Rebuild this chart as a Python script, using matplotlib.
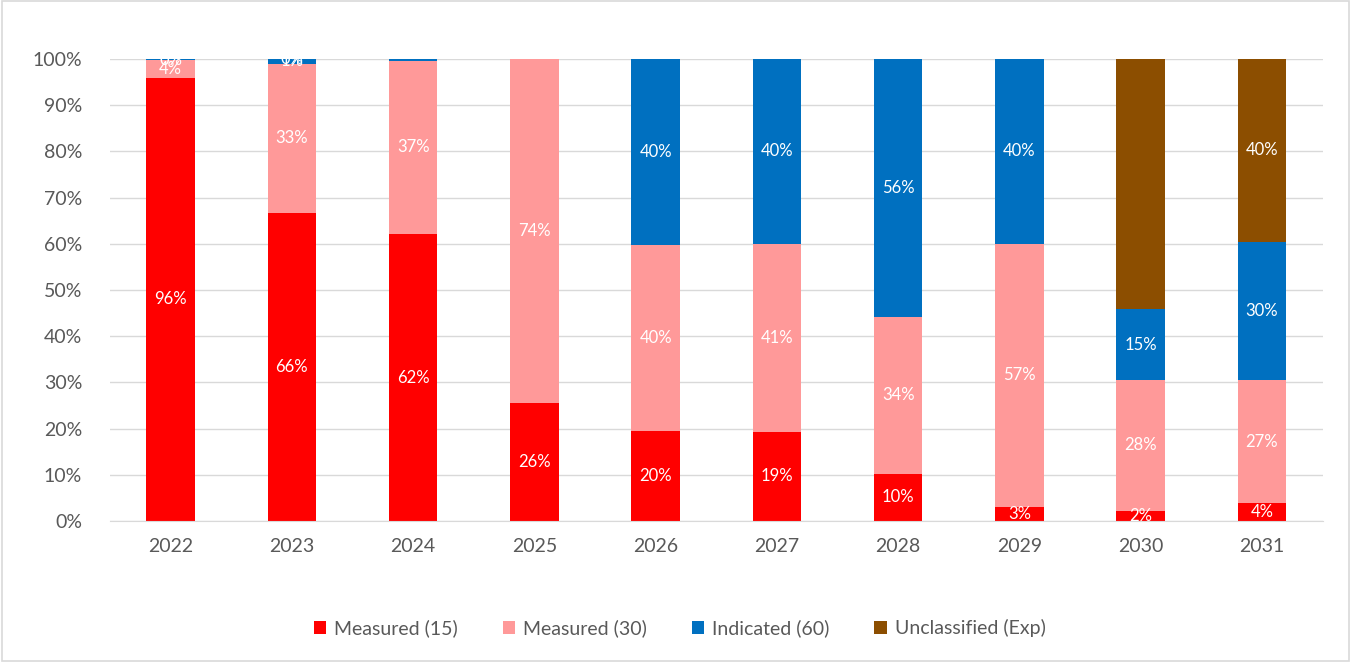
import numpy as np
import matplotlib.pyplot as plt
from matplotlib.patches import Rectangle

plt.rcParams['font.family'] = ['Lato', 'DejaVu Sans']

years = ['2022', '2023', '2024', '2025', '2026', '2027', '2028', '2029', '2030', '2031']

# share of each class per year (%)
measured_15 = [95.9, 66.6, 62.1, 25.5, 19.5, 19.3, 10.2, 3.0, 2.2, 3.9]
measured_30 = [3.8, 32.4, 37.5, 74.5, 40.2, 40.7, 34.0, 57.0, 28.3, 26.6]
indicated_60 = [0.3, 1.0, 0.4, 0.0, 40.3, 40.0, 55.8, 40.0, 15.4, 29.9]
unclassified = [0.0, 0.0, 0.0, 0.0, 0.0, 0.0, 0.0, 0.0, 54.1, 39.6]

# data labels as shown on the chart ('' = not shown)
lab_15 = ['96%', '66%', '62%', '26%', '20%', '19%', '10%', '3%', '2%', '4%']
lab_30 = ['4%', '33%', '37%', '74%', '40%', '41%', '34%', '57%', '28%', '27%']
lab_60 = ['0%', '1%', '', '', '40%', '40%', '56%', '40%', '15%', '30%']
lab_ux = ['', '0%', '', '', '', '', '', '', '', '40%']

series = [
    ('Measured (15)', measured_15, lab_15, '#FF0000'),
    ('Measured (30)', measured_30, lab_30, '#FF9999'),
    ('Indicated (60)', indicated_60, lab_60, '#0070C0'),
    ('Unclassified (Exp)', unclassified, lab_ux, '#8C4E00'),
]

fig = plt.figure(figsize=(13.51, 6.62), dpi=100)
ax = fig.add_axes([0.0814, 0.2130, 0.8976, 0.6979])

x = np.arange(len(years))
bottom = np.zeros(len(years))
for name, vals, labs, col in series:
    v = np.array(vals) / 100
    ax.bar(x, v, 0.4, bottom=bottom, color=col, label=name, zorder=2)
    for i in range(len(years)):
        if labs[i]:
            ax.text(x[i], bottom[i] + v[i] / 2, labs[i], ha='center', va='center',
                    color='white', fontsize=12, zorder=3)
    bottom += v

ax.set_xlim(-0.5, len(years) - 0.5)
ax.set_ylim(0, 1)
ax.set_yticks(np.arange(0, 1.01, 0.1))
ax.set_yticklabels([f'{int(round(t * 100))}%' for t in np.arange(0, 1.01, 0.1)])
ax.set_xticks(x)
ax.set_xticklabels(years)
ax.tick_params(axis='both', length=0, labelsize=14, colors='#595959')
ax.tick_params(axis='y', pad=20)
ax.tick_params(axis='x', pad=12)
ax.grid(axis='y', color='#D9D9D9', linewidth=1, zorder=0)
for s in ['top', 'right', 'left']:
    ax.spines[s].set_visible(False)
ax.spines['bottom'].set_color('#D9D9D9')

leg = fig.legend(loc='center', bbox_to_anchor=(0.503, 0.051), ncol=4, frameon=False,
                 fontsize=14, handlelength=0.65, handleheight=0.65, columnspacing=2.3,
                 handletextpad=0.4)
for t in leg.get_texts():
    t.set_color('#595959')

fig.patches.append(Rectangle((0.0015, 0.002), 0.997, 0.996, transform=fig.transFigure,
                             fill=False, edgecolor='#D9D9D9', linewidth=1.2))

fig.savefig('out.png', dpi=100)
